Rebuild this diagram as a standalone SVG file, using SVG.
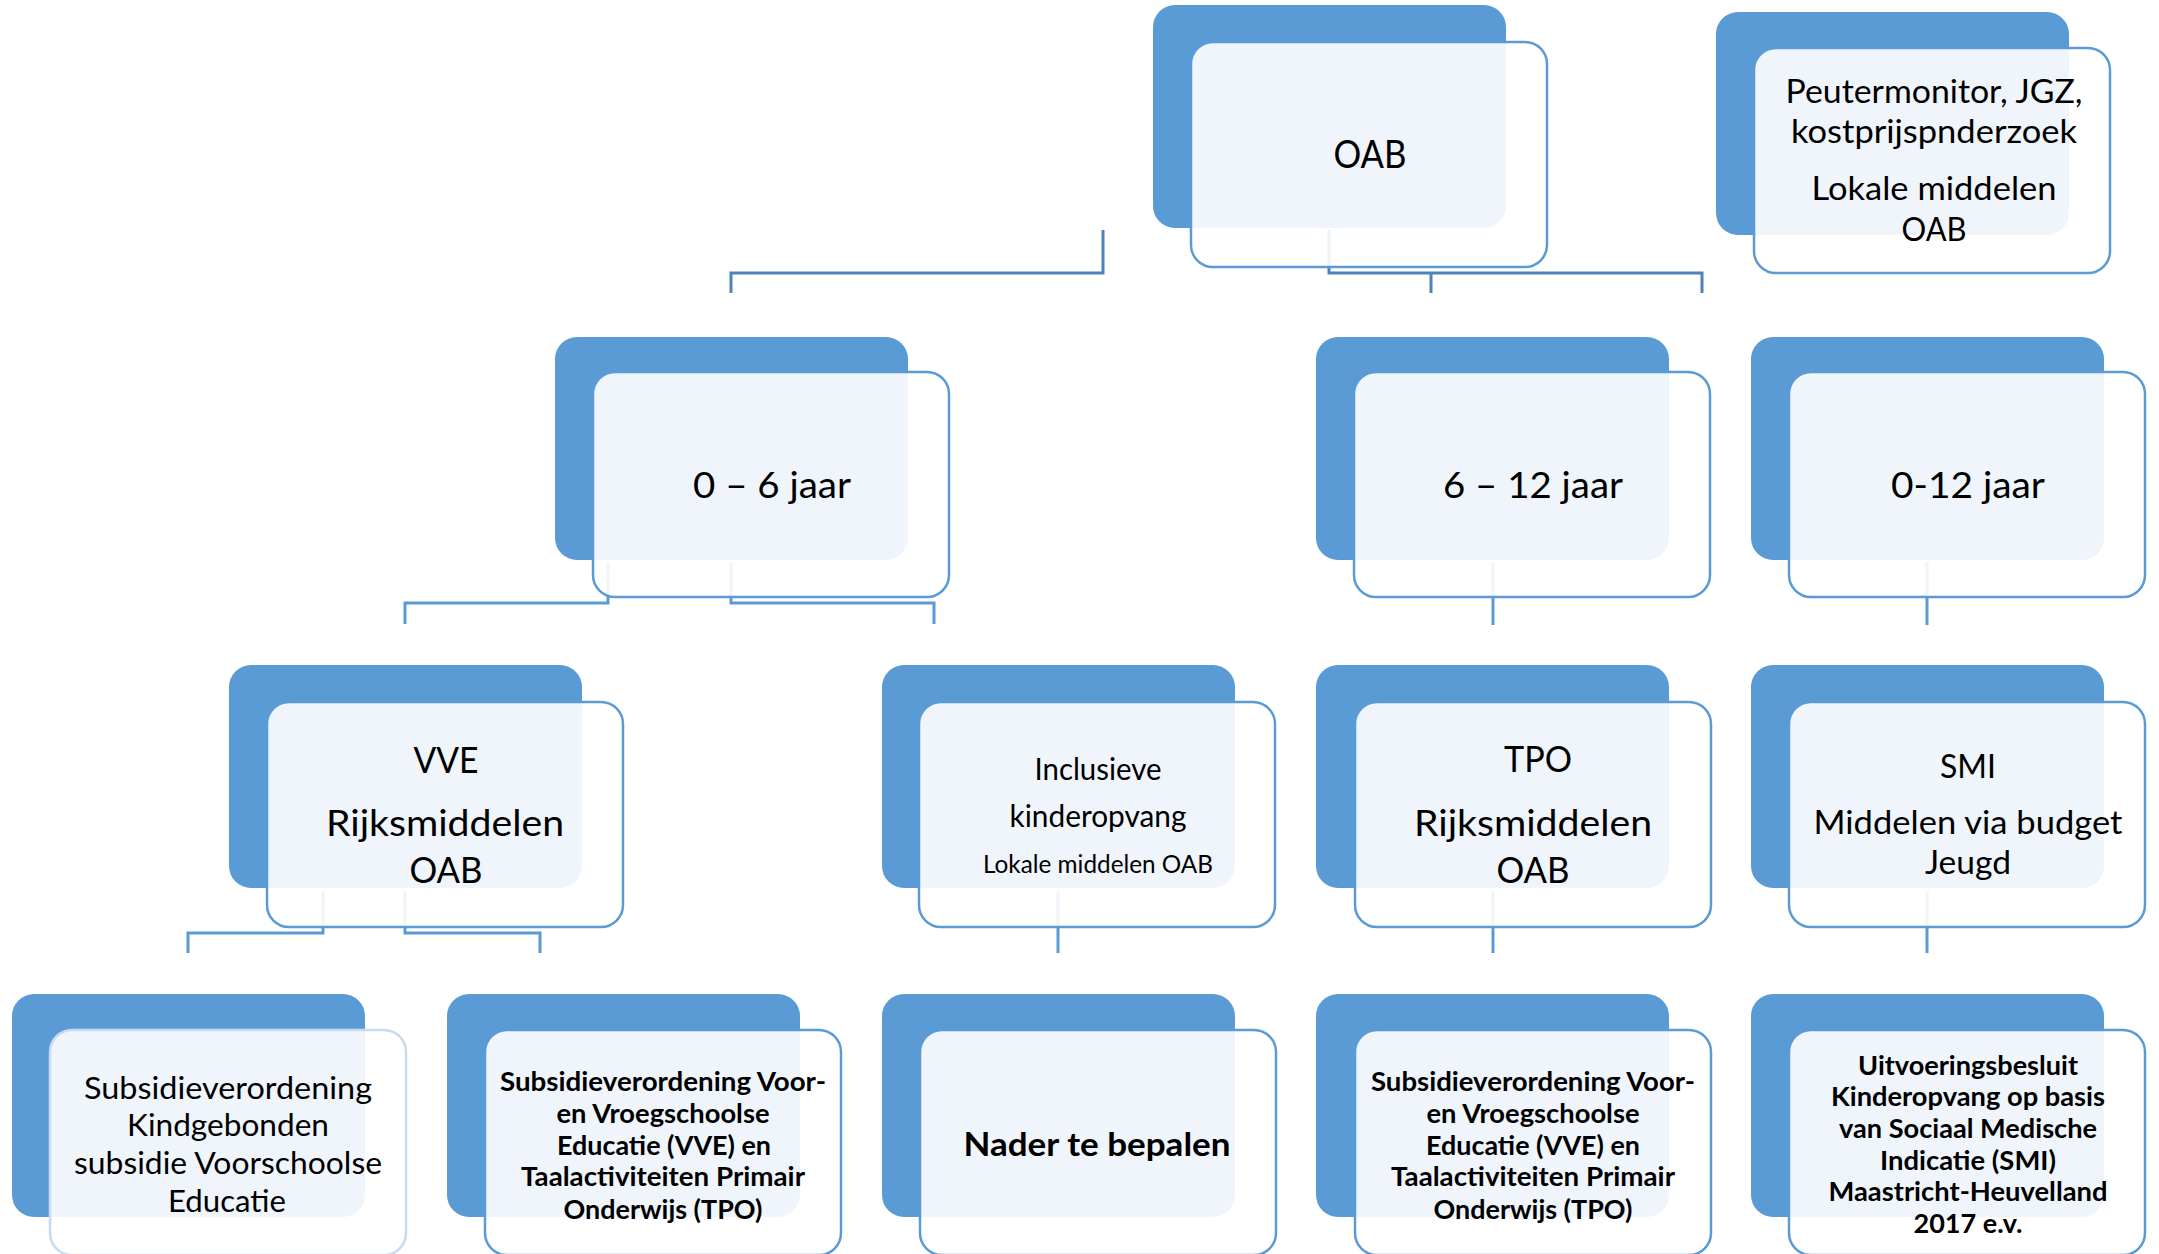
<svg xmlns="http://www.w3.org/2000/svg" width="2159" height="1254" viewBox="0 0 2159 1254">
<style>
.back{fill:#5b9bd5}
.front{fill:#ffffff;fill-opacity:0.9;stroke:#5b9bd5;stroke-width:2.5}
.front.light{stroke:#c6daf0}
.c1{fill:none;stroke:#4f81bd;stroke-width:3}
.c2{fill:none;stroke:#5b9bd5;stroke-width:3}
text{font-family:Lato,"Open Sans","Liberation Sans",sans-serif;fill:#000;text-anchor:middle}
.b{font-weight:bold}
</style>
<rect width="2159" height="1254" fill="#ffffff"/>
<g id="connectors">
<path class="c1" d="M1103,230 V273 H731 V293"/>
<path class="c1" d="M1329,230 V273 H1702 V293 M1431,273 V293"/>
<path class="c2" d="M608,562 V603 H405 V624"/>
<path class="c2" d="M731,562 V603 H934 V624"/>
<path class="c2" d="M1493,562 V625"/>
<path class="c2" d="M1927,562 V625"/>
<path class="c2" d="M323,891 V933 H188 V953"/>
<path class="c2" d="M405,891 V933 H540 V953"/>
<path class="c2" d="M1058,891 V953"/>
<path class="c2" d="M1493,891 V953"/>
<path class="c2" d="M1927,891 V953"/>
</g>
<g id="n-oab">
<rect class="back" x="1153" y="5" width="353" height="223" rx="22"/>
<rect class="front" x="1191" y="42" width="356" height="225" rx="22"/>
<text x="1370" y="168" font-size="38" textLength="73" lengthAdjust="spacingAndGlyphs">OAB</text>
</g>
<g id="n-peuter">
<rect class="back" x="1716" y="12" width="353" height="223" rx="22"/>
<rect class="front" x="1754" y="48" width="356" height="225" rx="22"/>
<g font-size="32">
<text x="1934" y="103" textLength="297" lengthAdjust="spacingAndGlyphs">Peutermonitor, JGZ,</text>
<text x="1934" y="143" textLength="286" lengthAdjust="spacingAndGlyphs">kostprijspnderzoek</text>
<text x="1934" y="200" textLength="245" lengthAdjust="spacingAndGlyphs">Lokale middelen</text>
<text x="1934" y="241" textLength="65" lengthAdjust="spacingAndGlyphs">OAB</text>
</g>
</g>
<g id="n-06">
<rect class="back" x="555" y="337" width="353" height="223" rx="22"/>
<rect class="front" x="593" y="372" width="356" height="225" rx="22"/>
<text x="772" y="498" font-size="37" textLength="158" lengthAdjust="spacingAndGlyphs">0 – 6 jaar</text>
</g>
<g id="n-612">
<rect class="back" x="1316" y="337" width="353" height="223" rx="22"/>
<rect class="front" x="1354" y="372" width="356" height="225" rx="22"/>
<text x="1533" y="498" font-size="37" textLength="180" lengthAdjust="spacingAndGlyphs">6 – 12 jaar</text>
</g>
<g id="n-012">
<rect class="back" x="1751" y="337" width="353" height="223" rx="22"/>
<rect class="front" x="1789" y="372" width="356" height="225" rx="22"/>
<text x="1968" y="498" font-size="37" textLength="154" lengthAdjust="spacingAndGlyphs">0-12 jaar</text>
</g>
<g id="n-vve">
<rect class="back" x="229" y="665" width="353" height="223" rx="22"/>
<rect class="front" x="267" y="702" width="356" height="225" rx="22"/>
<g font-size="37">
<text x="446" y="773" textLength="65" lengthAdjust="spacingAndGlyphs">VVE</text>
<text x="445" y="836" textLength="238" lengthAdjust="spacingAndGlyphs">Rijksmiddelen</text>
<text x="446" y="883" textLength="73" lengthAdjust="spacingAndGlyphs">OAB</text>
</g>
</g>
<g id="n-incl">
<rect class="back" x="882" y="665" width="353" height="223" rx="22"/>
<rect class="front" x="919" y="702" width="356" height="225" rx="22"/>
<text x="1098" y="780" font-size="30" textLength="127" lengthAdjust="spacingAndGlyphs">Inclusieve</text>
<text x="1098" y="827" font-size="30" textLength="177" lengthAdjust="spacingAndGlyphs">kinderopvang</text>
<text x="1098" y="873" font-size="25" textLength="230" lengthAdjust="spacingAndGlyphs">Lokale middelen OAB</text>
</g>
<g id="n-tpo">
<rect class="back" x="1316" y="665" width="353" height="223" rx="22"/>
<rect class="front" x="1355" y="702" width="356" height="225" rx="22"/>
<g font-size="37">
<text x="1538" y="772" textLength="68" lengthAdjust="spacingAndGlyphs">TPO</text>
<text x="1533" y="836" textLength="238" lengthAdjust="spacingAndGlyphs">Rijksmiddelen</text>
<text x="1533" y="883" textLength="73" lengthAdjust="spacingAndGlyphs">OAB</text>
</g>
</g>
<g id="n-smi">
<rect class="back" x="1751" y="665" width="353" height="223" rx="22"/>
<rect class="front" x="1789" y="702" width="356" height="225" rx="22"/>
<text x="1968" y="778" font-size="33" textLength="56" lengthAdjust="spacingAndGlyphs">SMI</text>
<text x="1968" y="834" font-size="32" textLength="309" lengthAdjust="spacingAndGlyphs">Middelen via budget</text>
<text x="1968" y="874" font-size="32" textLength="86" lengthAdjust="spacingAndGlyphs">Jeugd</text>
</g>
<g id="n-kindgebonden">
<rect class="back" x="12" y="994" width="353" height="223" rx="22"/>
<rect class="front light" x="50" y="1030" width="356" height="225" rx="22"/>
<g font-size="31">
<text x="228" y="1099" textLength="288" lengthAdjust="spacingAndGlyphs">Subsidieverordening</text>
<text x="228" y="1136" textLength="202" lengthAdjust="spacingAndGlyphs">Kindgebonden</text>
<text x="228" y="1174" textLength="308" lengthAdjust="spacingAndGlyphs">subsidie Voorschoolse</text>
<text x="227" y="1212" textLength="118" lengthAdjust="spacingAndGlyphs">Educatie</text>
</g>
</g>
<g id="n-vve-tpo-1">
<rect class="back" x="447" y="994" width="353" height="223" rx="22"/>
<rect class="front" x="485" y="1030" width="356" height="225" rx="22"/>
<g class="b" font-size="26">
<text x="663" y="1091" textLength="326" lengthAdjust="spacingAndGlyphs">Subsidieverordening Voor-</text>
<text x="663" y="1123" textLength="213" lengthAdjust="spacingAndGlyphs">en Vroegschoolse</text>
<text x="664" y="1155" textLength="214" lengthAdjust="spacingAndGlyphs">Educatie (VVE) en</text>
<text x="663" y="1186" textLength="284" lengthAdjust="spacingAndGlyphs">Taalactiviteiten Primair</text>
<text x="663" y="1219" textLength="199" lengthAdjust="spacingAndGlyphs">Onderwijs (TPO)</text>
</g>
</g>
<g id="n-nader">
<rect class="back" x="882" y="994" width="353" height="223" rx="22"/>
<rect class="front" x="920" y="1030" width="356" height="225" rx="22"/>
<text class="b" x="1097" y="1156" font-size="33" textLength="267" lengthAdjust="spacingAndGlyphs">Nader te bepalen</text>
</g>
<g id="n-vve-tpo-2">
<rect class="back" x="1316" y="994" width="353" height="223" rx="22"/>
<rect class="front" x="1355" y="1030" width="356" height="225" rx="22"/>
<g class="b" font-size="26">
<text x="1533" y="1091" textLength="324" lengthAdjust="spacingAndGlyphs">Subsidieverordening Voor-</text>
<text x="1533" y="1123" textLength="213" lengthAdjust="spacingAndGlyphs">en Vroegschoolse</text>
<text x="1533" y="1155" textLength="214" lengthAdjust="spacingAndGlyphs">Educatie (VVE) en</text>
<text x="1533" y="1186" textLength="284" lengthAdjust="spacingAndGlyphs">Taalactiviteiten Primair</text>
<text x="1533" y="1219" textLength="199" lengthAdjust="spacingAndGlyphs">Onderwijs (TPO)</text>
</g>
</g>
<g id="n-smi-besluit">
<rect class="back" x="1751" y="994" width="353" height="223" rx="22"/>
<rect class="front" x="1789" y="1030" width="356" height="225" rx="22"/>
<g class="b" font-size="26">
<text x="1968" y="1075" textLength="220" lengthAdjust="spacingAndGlyphs">Uitvoeringsbesluit</text>
<text x="1968" y="1106" textLength="274" lengthAdjust="spacingAndGlyphs">Kinderopvang op basis</text>
<text x="1968" y="1138" textLength="258" lengthAdjust="spacingAndGlyphs">van Sociaal Medische</text>
<text x="1968" y="1170" textLength="176" lengthAdjust="spacingAndGlyphs">Indicatie (SMI)</text>
<text x="1968" y="1201" textLength="279" lengthAdjust="spacingAndGlyphs">Maastricht-Heuvelland</text>
<text x="1968" y="1233" textLength="109" lengthAdjust="spacingAndGlyphs">2017 e.v.</text>
</g>
</g>
</svg>
